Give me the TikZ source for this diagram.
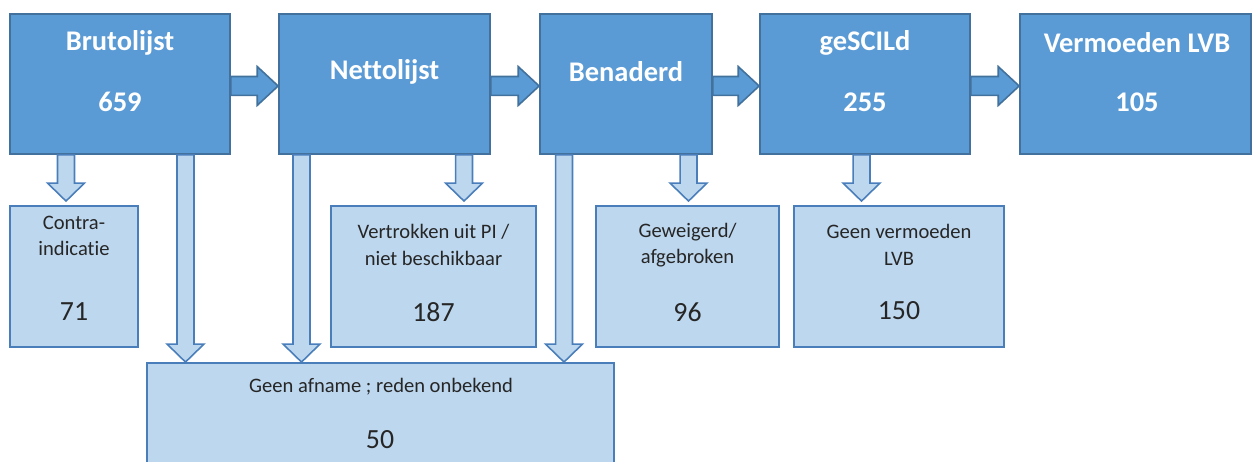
\documentclass[tikz,border=0pt]{standalone}
\usepackage{fontspec}
\setmainfont{Carlito}[Ligatures=NoCommon]
\usetikzlibrary{calc}
\definecolor{topfill}{HTML}{5B9BD5}
\definecolor{topline}{HTML}{41719C}
\definecolor{lowfill}{HTML}{BDD7EE}
\definecolor{lowline}{HTML}{4A7EBB}
\definecolor{lowtext}{HTML}{262626}
\newdimen\pxu \pxu=0.5669pt
\newcommand{\harrow}[2]{%
  \draw[harr] let \p1=(#1.east), \p2=(#2.west) in
   (\x1,{\y1+7.5*\pxu}) -- ({\x2-21*\pxu},{\y1+7.5*\pxu}) -- ({\x2-21*\pxu},{\y1+17.5*\pxu})
   -- (\x2,{\y1-2*\pxu}) -- ({\x2-21*\pxu},{\y1-21.5*\pxu}) -- ({\x2-21*\pxu},{\y1-11.5*\pxu})
   -- (\x1,{\y1-11.5*\pxu}) -- cycle;}
\newcommand{\varrow}[4]{%
  \draw[varr] let \p3=(#1,0), \p1=(#2.south), \p2=(#3.north) in
   ({\x3-8.5*\pxu},\y1) -- ({\x3-8.5*\pxu},{\y2+(#4+18)*\pxu}) -- ({\x3-18.5*\pxu},{\y2+(#4+18)*\pxu})
   -- (\x3,{\y2+#4*\pxu}) -- ({\x3+18.5*\pxu},{\y2+(#4+18)*\pxu}) -- ({\x3+8.5*\pxu},{\y2+(#4+18)*\pxu})
   -- ({\x3+8.5*\pxu},\y1) -- cycle;}
\tikzset{
  topbox/.style={draw=topline, fill=topfill, line width=1pt, inner sep=0pt, minimum height=2.8cm},
  lowbox/.style={draw=lowline, fill=lowfill, line width=1.1pt, inner sep=0pt, minimum height=2.82cm},
  toptxt/.style={font=\fontsize{16.2}{19}\selectfont\bfseries, text=white, inner sep=0pt},
  lowtxt/.style={font=\fontsize{11.7}{15}\selectfont, text=lowtext, align=center, inner sep=0pt},
  numtxt/.style={font=\fontsize{15.8}{18}\selectfont, text=lowtext, inner sep=0pt},
  harr/.style={draw=topline, fill=topfill, line width=0.9pt, line join=miter},
  varr/.style={draw=lowline, fill=lowfill, line width=0.9pt, line join=miter},
}
\begin{document}
\begin{tikzpicture}[x=0.02cm, y=-0.02cm]
\useasboundingbox (0,0) rectangle (1253,462);
\clip (0,0) rectangle (1253,462);
% top row
\node[topbox, minimum width=4.4cm]  (brut) at (120,84) {};
\node[topbox, minimum width=4.22cm] (net)  at (384.5,84) {};
\node[topbox, minimum width=3.44cm] (ben)  at (626,84) {};
\node[topbox, minimum width=4.2cm]  (gsc)  at (865,84) {};
\node[topbox, minimum width=4.62cm] (vlvb) at (1135.5,84) {};
\node[toptxt] (brut-l) at (120,43) {Brutolijst};
\node[toptxt] (brut-n) at (120,102) {659};
\node[toptxt] (net-l)  at (384.5,72) {Nettolijst};
\node[toptxt] (ben-l)  at (626,72) {Benaderd};
\node[toptxt] (gsc-l)  at (865,43) {geSCILd};
\node[toptxt] (gsc-n)  at (865,102) {255};
\node[toptxt] (vlvb-l) at (1137,43) {Vermoeden LVB};
\node[toptxt] (vlvb-n) at (1137,102) {105};
% bottom row
\node[lowbox, minimum width=2.56cm] (contra) at (74,276.5) {};
\node[lowbox, minimum width=4.1cm]  (vert)   at (433.5,276.5) {};
\node[lowbox, minimum width=3.66cm] (gew)    at (687.5,276.5) {};
\node[lowbox, minimum width=4.2cm]  (gvl)    at (899,276.5) {};
\node[lowbox, minimum width=9.34cm, minimum height=2.6cm] (afn) at (380.5,428) {};
\node[lowtxt] (contra-l) at (74,236) {Contra-\\indicatie};
\node[numtxt] (contra-n) at (74,312) {71};
\node[lowtxt] (vert-l) at (433.5,245) {Vertrokken uit PI /\\niet beschikbaar};
\node[numtxt] (vert-n) at (433.5,312) {187};
\node[lowtxt] (gew-l) at (687.5,245) {Geweigerd/\\afgebroken};
\node[numtxt] (gew-n) at (687.5,312) {96};
\node[lowtxt] (gvl-l) at (899,245) {Geen vermoeden\\LVB};
\node[numtxt] (gvl-n) at (899,311) {150};
\node[lowtxt] (afn-l) at (381,387) {Geen afname ; reden onbekend};
\node[numtxt] (afn-n) at (380,440) {50};
% horizontal arrows
\harrow{brut}{net}
\harrow{net}{ben}
\harrow{ben}{gsc}
\harrow{gsc}{vlvb}
% vertical arrows
\varrow{66}{brut}{contra}{4}
\varrow{185.5}{brut}{afn}{0}
\varrow{301.5}{net}{afn}{0}
\varrow{464}{net}{vert}{4}
\varrow{564}{ben}{afn}{0}
\varrow{688.5}{ben}{gew}{4}
\varrow{861.5}{gsc}{gvl}{4}
\end{tikzpicture}
\end{document}
